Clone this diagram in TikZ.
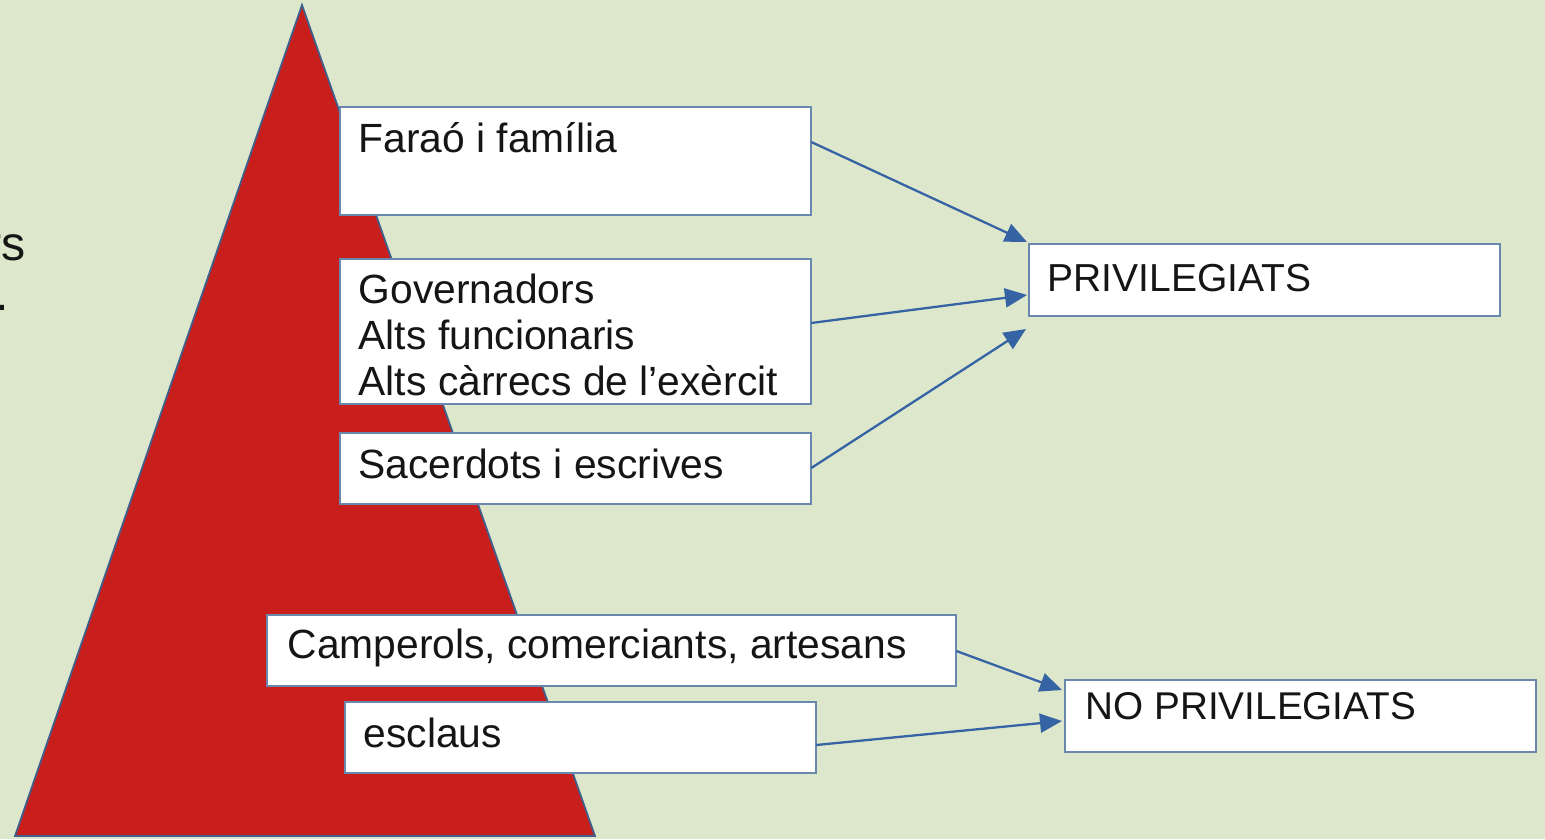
\documentclass[tikz,border=0pt]{standalone}
\usepackage{fontspec}
\setmainfont{Liberation Sans}
\usetikzlibrary{arrows.meta}
\definecolor{bgc}{HTML}{DDE7CB}
\definecolor{pyr}{HTML}{C81F1D}
\definecolor{pyrline}{HTML}{3F5F8C}
\definecolor{boxline}{HTML}{6A88AC}
\definecolor{arr}{HTML}{3563A3}
\definecolor{txt}{HTML}{151515}
\tikzset{
  box/.style={draw=boxline, line width=0.6pt, fill=white, rectangle, anchor=north west,
    inner sep=0pt, outer sep=0pt},
  lbl/.style={anchor=base west, inner sep=0pt, text=txt, font=\fontsize{11.6pt}{13.1pt}\selectfont},
  lblr/.style={anchor=base west, inner sep=0pt, text=txt, font=\fontsize{11.1pt}{13pt}\selectfont},
  cut/.style={anchor=base east, inner sep=0pt, text=txt, font=\fontsize{13.7pt}{15pt}\selectfont},
  conn/.style={draw=arr, line width=0.65pt, -{Triangle[length=0.22cm,width=0.19cm]}}
}
\begin{document}
\begin{tikzpicture}[x=0.01cm, y=-0.01cm]
\useasboundingbox (0,0) rectangle (1545,839);
\clip (0,0) rectangle (1545,839);
\fill[bgc] (0,0) rectangle (1545,839);
% pyramid
\draw[fill=pyr, draw=pyrline, line width=0.5pt] (302,5) -- (595,836) -- (15,836) -- cycle;
% cut-off text on the left
\node[cut] (lt1) at (26,260) {rs};
\node[cut] (lt2) at (10,310) {.};
% boxes
\node[box, minimum width=4.71cm, minimum height=1.08cm] (far) at (340,107) {};
\node[box, minimum width=4.71cm, minimum height=1.45cm] (gov) at (340,259) {};
\node[box, minimum width=4.71cm, minimum height=0.71cm] (sac) at (340,433) {};
\node[box, minimum width=4.71cm, minimum height=0.72cm] (priv) at (1029,244) {};
\node[box, minimum width=6.89cm, minimum height=0.71cm] (camp) at (267,615) {};
\node[box, minimum width=4.71cm, minimum height=0.71cm] (escl) at (345,702) {};
\node[box, minimum width=4.71cm, minimum height=0.72cm] (nopriv) at (1065,680) {};
% texts
\node[lbl] (tfar) at (358,152) {Faraó i família};
\node[lbl] (tgov1) at (358,303) {Governadors};
\node[lbl] (tgov2) at (358,349) {Alts funcionaris};
\node[lbl] (tgov3) at (358,395) {Alts càrrecs de l’exèrcit};
\node[lbl] (tsac) at (358,478) {Sacerdots i escrives};
\node[lblr] (tpriv) at (1047,291) {PRIVILEGIATS};
\node[lbl] (tcamp) at (287,658) {Camperols, comerciants, artesans};
\node[lbl] (tescl) at (363,747) {esclaus};
\node[lblr, font=\fontsize{11.0pt}{13pt}\selectfont] (tnopriv) at (1085,719) {NO PRIVILEGIATS};
% arrow end points
\coordinate (e1) at (1027,242);
\coordinate (e2) at (1027,295);
\coordinate (e3) at (1026,329);
\coordinate (e4) at (1062,690);
\coordinate (e5) at (1062,721);
% connectors
\draw[conn] (far.east |- 0,142) -- (e1);
\draw[conn] (gov.east |- 0,323) -- (e2);
\draw[conn] (sac.east |- 0,468) -- (e3);
\draw[conn] (camp.east |- 0,651) -- (e4);
\draw[conn] (escl.east |- 0,745) -- (e5);
\end{tikzpicture}
\end{document}
